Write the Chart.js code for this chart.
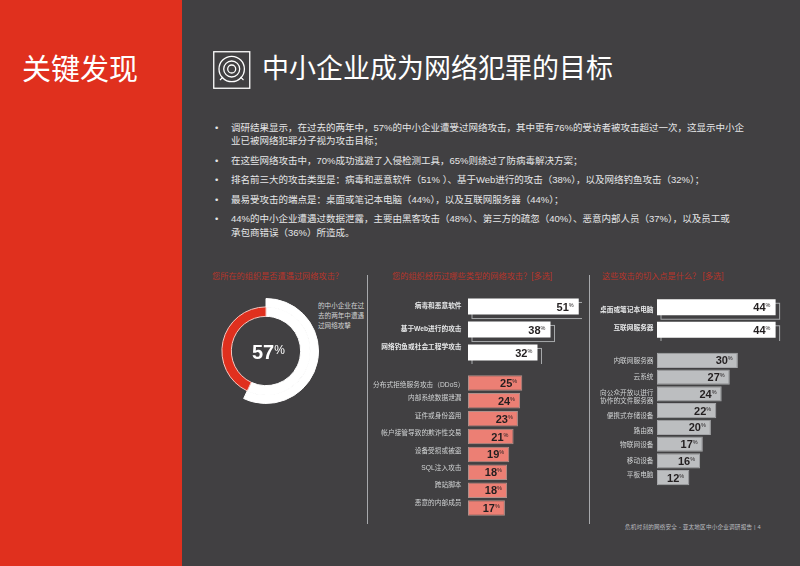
<!DOCTYPE html>
<html lang="zh"><head><meta charset="utf-8">
<script src="https://cdn.jsdelivr.net/npm/chart.js@4"></script>
<style>
html,body{margin:0;padding:0;width:800px;height:566px;overflow:hidden;background:#414042;font-family:"Liberation Sans","Noto Sans CJK SC",sans-serif;color:#fff}
.a{position:absolute;white-space:nowrap}
#left{left:0;top:0;width:182px;height:566px;background:#E0301E}
.b{font-size:9.5px;color:#E6E7E8;line-height:12px}
.h{font-size:8.2px;color:#B7352A;line-height:12px}
.v{width:1px;background:#A7A9AC;top:275px;height:249px}
canvas{position:absolute}
</style></head><body>
<div class="a" id="left"></div>
<div class="a" style="left:22px;top:48px;font-size:29px;line-height:38px;font-family:'Noto Sans CJK SC'">关键发现</div>
<svg class="a" style="left:213px;top:51px" width="38" height="38" viewBox="0 0 38 38" fill="none" stroke="#fff">
<rect x=".75" y=".75" width="36" height="36.5" stroke-width="1.3"/>
<circle cx="18.7" cy="18" r="12.7" stroke-width="1.3"/><circle cx="18.7" cy="18" r="8" stroke-width="1.3"/><circle cx="18.7" cy="18" r="4" stroke-width="1.3"/>
<path d="M7 29l3-3M30.5 29l-3-3" stroke-width="1.1"/></svg>
<div class="a" style="left:262px;top:48px;font-size:27px;line-height:38px;font-family:'Noto Sans CJK SC'">中小企业成为网络犯罪的目标</div>

<div id="notes"></div>

<div class="a h" style="left:212px;top:271px">您所在的组织是否遭遇过网络攻击？</div>
<div class="a h" style="left:392px;top:271px">您的组织经历过哪些类型的网络攻击？[多选]</div>
<div class="a h" style="left:602px;top:271px">这些攻击的切入点是什么？ [多选]</div>
<div class="a v" style="left:367px"></div>
<div class="a v" style="left:589px"></div>
<div class="a" style="left:318px;top:301px;font-size:6.6px;line-height:10px;color:#D1D3D4">的中小企业在过<br>去的两年中遭遇<br>过网络攻擊</div>
<div class="a" style="left:625px;top:522px;font-size:5.6px;line-height:10px;color:#BCBEC0;letter-spacing:.2px">危机时刻的网络安全 - 亚太地区中小企业调研报告 | 4</div>

<canvas id="donut" width="106" height="106" style="left:213px;top:298px"></canvas>
<canvas id="attackTop" width="214" height="69" style="left:368px;top:295px"></canvas>
<canvas id="attackBottom" width="214" height="143" style="left:368px;top:374px"></canvas>
<canvas id="entryTop" width="191" height="45" style="left:590px;top:296px"></canvas>
<canvas id="entryBottom" width="191" height="134" style="left:590px;top:352px"></canvas>

<script>
const noteLines = [
 ["调研结果显示，在过去的两年中，57%的中小企业遭受过网络攻击，其中更有76%的受访者被攻击超过一次，这显示中小企",122,true],
 ["业已被网络犯罪分子视为攻击目标；",135,false],
 ["在这些网络攻击中，70%成功逃避了入侵检测工具，65%则绕过了防病毒解决方案；",155,true],
 ["排名前三大的攻击类型是：病毒和恶意软件（51% ）、基于Web进行的攻击（38%），以及网络钓鱼攻击（32%）；",174,true],
 ["最易受攻击的端点是：桌面或笔记本电脑（44%），以及互联网服务器（44%）；",194,true],
 ["44%的中小企业遭遇过数据泄露，主要由黑客攻击（48%）、第三方的疏忽（40%）、恶意内部人员（37%），以及员工或",213,true],
 ["承包商错误（36%）所造成。",227,false]
];
const notes=document.getElementById('notes');
noteLines.forEach(([t,y,bullet])=>{
  if(bullet){const d=document.createElement('div');d.className='a b';d.style.left='215px';d.style.top=y+'px';d.textContent='•';notes.appendChild(d);}
  const d=document.createElement('div');d.className='a b';d.style.left='231px';d.style.top=y+'px';d.textContent=t;notes.appendChild(d);
});

const breachValues=[57,43];
const attackTopLabels=["病毒和恶意软件","基于Web进行的攻击","网络钓鱼或社会工程学攻击"];
const attackTopValues=[51,38,32];
const attackBottomLabels=["分布式拒绝服务攻击（DDoS）","内部系统数据泄漏","证件或身份盗用","帐户接管导致的欺诈性交易","设备受损或被盗","SQL注入攻击","跨站脚本","恶意的内部成员"];
const attackBottomValues=[25,24,23,21,19,18,18,17];
const entryTopLabels=["桌面或笔记本电脑","互联网服务器"];
const entryTopValues=[44,44];
const entryBottomLabels=["内联网服务器","云系统",["向公众开放以进行","协作的文件服务器"],"便携式存储设备","路由器","物联网设备","移动设备","平板电脑"];
const entryBottomValues=[30,27,24,22,20,17,16,12];

const FF='"Liberation Sans","Noto Sans CJK SC",sans-serif';
const valueLabels={id:'valueLabels',afterDatasetsDraw(c){
  const x=c.ctx,meta=c.getDatasetMeta(0),data=c.data.datasets[0].data;
  x.save();x.fillStyle='#231F20';x.textBaseline='alphabetic';
  meta.data.forEach((b,i)=>{
    x.font='bold 11px '+FF;x.textAlign='left';
    const w=x.measureText(data[i]).width;
    x.fillText(data[i],b.x-10-w,b.y+4);
    x.font='5.5px '+FF;x.fillText('%',b.x-10,b.y);
  });x.restore();
}};
const shadow={id:'shadow',beforeDatasetsDraw(c,a,o){
  if(!o.on)return;
  const x=c.ctx;x.save();x.strokeStyle='#A7A9AC';x.lineWidth=1;
  c.getDatasetMeta(0).data.forEach(b=>{
    x.strokeRect(b.base+4,b.y-b.height/2+4,b.x-b.base,b.height);
  });x.restore();
}};
// shift individual axis labels the way the page layout does
function shiftTicks(nudge,nudgeX){return s=>{
  if(s._shiftPatched)return;s._shiftPatched=true;
  const orig=s._computeLabelItems;
  s._computeLabelItems=function(a){const it=orig.call(this,a);
    it.forEach((t,i)=>{t.options.translation[1]+=nudge[i]||0;t.options.translation[0]+=(nudgeX&&nudgeX[i])||0});return it;};
  s._labelItems=null;
}}
function bars(id,labels,values,max,left,color,o){
  new Chart(document.getElementById(id),{
    type:'bar',
    data:{labels,datasets:[{data:values,backgroundColor:color,borderColor:o.border,borderWidth:o.borderW,borderSkipped:false,categoryPercentage:o.cat,barPercentage:1}]},
    options:{indexAxis:'y',responsive:false,maintainAspectRatio:false,animation:false,
      layout:{autoPadding:false,padding:0},
      plugins:{legend:{display:false},tooltip:{enabled:false},shadow:{on:o.shadow}},
      scales:{
        x:{display:false,min:0,max},
        y:{beforeUpdate(s){s.getPadding=()=>({left:0,top:0,right:0,bottom:0})},
           afterFit(s){s.width=left;s.paddingTop=0;s.paddingBottom=0;s.paddingLeft=0;s.paddingRight=0},afterUpdate:shiftTicks(o.nudge,o.nudgeX),grid:{display:false,drawTicks:false},border:{display:false},
           ticks:{color:o.tick,autoSkip:false,padding:o.pad,font:{size:6.7,weight:o.weight,family:FF,lineHeight:1.2}}}
      }},
    plugins:[valueLabels,shadow]
  });
}
bars('attackTop',attackTopLabels,attackTopValues,52.5,100,'#FFFFFF',{border:'#FFFFFF',borderW:0,cat:.7,shadow:true,tick:'#E6E7E8',pad:6.5,weight:'bold',nudge:[0,0,-5]});
bars('attackBottom',attackBottomLabels,attackBottomValues,52.5,100,'#EC7F74',{border:'#B0908B',borderW:1,cat:.87,shadow:false,tick:'#D1D3D4',pad:6.5,weight:'normal',nudge:[2,-2.5,-2.5,-3.5,-3.5,-4,-5,-5],nudgeX:[3]});
bars('entryTop',entryTopLabels,entryTopValues,46,67,'#FFFFFF',{border:'#FFFFFF',borderW:0,cat:.71,shadow:true,tick:'#E6E7E8',pad:3.5,weight:'bold',nudge:[3,-1.5]});
bars('entryBottom',entryBottomLabels,entryBottomValues,46,67,'#BCBEC0',{border:'#A5A6A9',borderW:1,cat:.92,shadow:false,tick:'#D1D3D4',pad:3.5,weight:'normal',nudge:[1,0,3,5.7,3.7,1,0,-2]});

const center={id:'center',afterDraw(c){
  const x=c.ctx,m=c.getDatasetMeta(0).data[0];
  x.save();x.fillStyle='#fff';x.textBaseline='alphabetic';x.textAlign='left';
  x.font='bold 20px '+FF;x.fillText(breachValues[0],m.x-14,m.y+8);
  const w=x.measureText(breachValues[0]).width;
  x.font='12px '+FF;x.fillText('%',m.x-14+w,m.y+3);x.restore();
}};
new Chart(document.getElementById('donut'),{type:'doughnut',
  data:{datasets:[
    {data:breachValues,backgroundColor:['#FFFFFF','rgba(0,0,0,0)'],borderColor:['#FFFFFF','rgba(0,0,0,0)'],borderWidth:[1,0],weight:8},
    {data:breachValues,backgroundColor:['#FFFFFF','#E0301E'],borderColor:['#FFFFFF','#F5C6BF'],borderWidth:1,weight:9}
  ]},
  options:{responsive:false,maintainAspectRatio:false,animation:false,cutout:'66%',layout:{padding:0},plugins:{legend:{display:false},tooltip:{enabled:false}}},
  plugins:[center]});
</script>
</body></html>
